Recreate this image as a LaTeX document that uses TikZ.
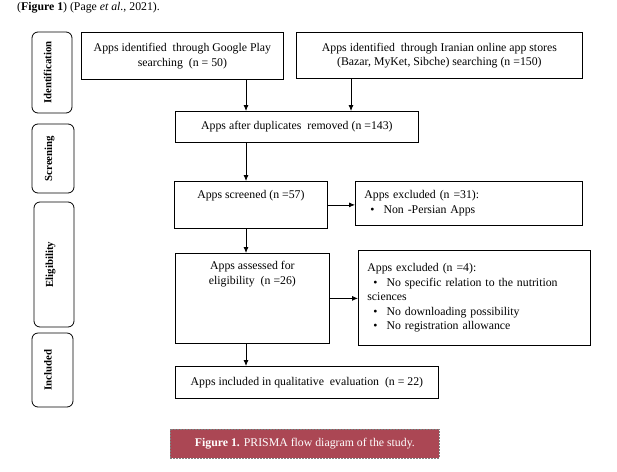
\documentclass[tikz,border=0pt]{standalone}
\usepackage{fontspec}
\setmainfont{Liberation Serif}
\usetikzlibrary{arrows.meta, positioning}
\definecolor{capred}{RGB}{171,71,84}

\begin{document}
\begin{tikzpicture}[x=1pt, y=-1pt, font={\fontsize{11.8}{14.5}\selectfont},
box/.style={draw, line width=0.8pt, inner sep=0pt, anchor=north west},
lane/.style={draw, line width=0.8pt, rounded corners=6pt, rotate=90, inner sep=0pt,
text depth=9pt, font={\fontsize{10.8}{12}\selectfont\bfseries}},
bul/.style={},
]
\useasboundingbox (0,0) rectangle (617,471);

\node[anchor=base west, inner sep=0pt] (head) at (17,10) {(\textbf{Figure 1}) (Page \textit{et al.}, 2021).};

% stage lanes
\node[lane, minimum width=81, minimum height=40] (ident) at (52,72.5) {Identification};
\node[lane, minimum width=69, minimum height=42] (screen) at (53,158.5) {Screening};
\node[lane, minimum width=125, minimum height=40] (elig) at (54,264.5) {Eligibility};
\node[lane, minimum width=74, minimum height=41] (incl) at (52.5,370) {Included};

% flow boxes
\node[box, minimum width=202, minimum height=47, align=center] (google) at (81,32)
{Apps identified~ through Google Play\\ searching~ (n = 50)};
\node[box, minimum width=286, minimum height=46, align=center] (iran) at (296,32)
{Apps identified~ through Iranian online app stores\\ (Bazar, MyKet, Sibche) searching (n =150)};
\node[box, minimum width=243, minimum height=31] (dup) at (175,111) {Apps after duplicates~ removed (n =143)};

\node[box, minimum width=153, minimum height=47] (screened) at (174,181) {};
\node[below=9pt of screened.north, inner sep=0pt] (screenedtxt) {Apps screened (n =57)};
\node[box, minimum height=44, align=left, text width=209, inner xsep=9pt] (excl1) at (355,181)
{Apps excluded (n =31):\\ \hspace*{6pt}\textbullet\hspace{9pt}Non -Persian Apps};

\node[box, minimum width=154, minimum height=90] (assessed) at (175,253) {};
\node[below=8pt of assessed.north, align=center, inner sep=0pt] (assessedtxt)
{Apps assessed for\\ eligibility~ (n =26)};
\node[box, minimum height=95, align=left, text width=214, inner xsep=9pt] (excl2) at (358,250)
{Apps excluded (n =4):\\
\makebox[208pt][s]{\hspace*{6pt}\textbullet\hspace{9pt}No specific relation to the nutrition}\\
sciences\\
\hspace*{6pt}\textbullet\hspace{9pt}No downloading possibility\\
\hspace*{6pt}\textbullet\hspace{9pt}No registration allowance};

\node[box, minimum width=263, minimum height=32] (included) at (175,366)
{Apps included in qualitative~ evaluation~ (n = 22)};

\node[box, draw=gray, dash pattern=on 2pt off 1pt, fill=capred, text=white, minimum width=269,
minimum height=29] (caption) at (170,429) {\textbf{Figure 1.} PRISMA flow diagram of the study.};

% arrows
\coordinate (lcol) at (246,0);
\coordinate (rcol) at (351,0);
\begin{scope}[-{Latex[length=6pt,width=5pt]}, line width=0.8pt]
\draw (google.south -| lcol) -- (dup.north -| lcol);
\draw (iran.south -| rcol) -- (dup.north -| rcol);
\draw (dup.south -| lcol) -- (screened.north -| lcol);
\draw (screened.east) -- (excl1.west |- screened.east);
\draw (screened.south -| lcol) -- (assessed.north -| lcol);
\draw (assessed.east) -- (excl2.west |- assessed.east);
\draw (assessed.south -| lcol) -- (included.north -| lcol);
\end{scope}

\end{tikzpicture}
\end{document}
